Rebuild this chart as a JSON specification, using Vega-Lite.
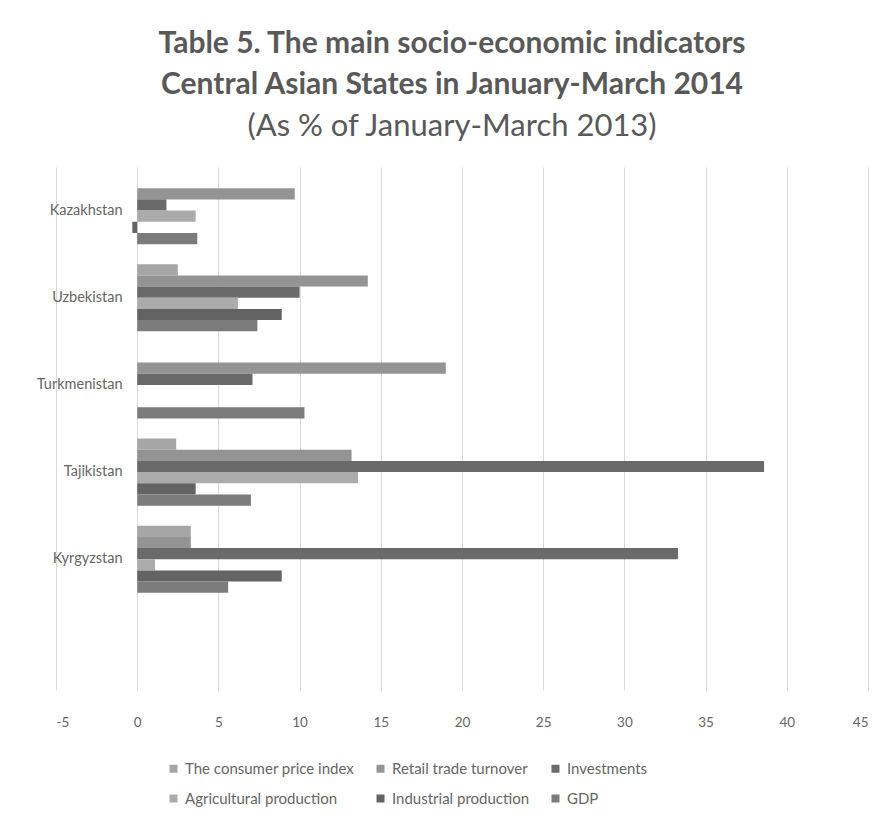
{
  "$schema": "https://vega.github.io/schema/vega-lite/v6.json",
  "autosize": "none",
  "width": 812,
  "height": 523,
  "padding": {"left": 56, "top": 167, "right": 15, "bottom": 126},
  "background": "white",
  "title": {
    "text": ["Table 5. The main socio-economic indicators", "Central Asian States in January-March 2014"],
    "subtitle": "(As % of January-March 2013)",
    "anchor": "middle",
    "dx": -10,
    "offset": 25,
    "font": "Lato",
    "fontSize": 30,
    "fontWeight": "bold",
    "lineHeight": 41,
    "color": "#595959",
    "subtitleFont": "Lato",
    "subtitleFontSize": 31,
    "subtitleFontWeight": "normal",
    "subtitleColor": "#595959",
    "subtitlePadding": 12,
    "subtitleLineHeight": 40
  },
  "data": {
    "values": [
      {"country": "Kazakhstan", "series": "Retail trade turnover", "value": 9.7},
      {"country": "Kazakhstan", "series": "Investments", "value": 1.8},
      {"country": "Kazakhstan", "series": "Agricultural production", "value": 3.6},
      {"country": "Kazakhstan", "series": "Industrial production", "value": -0.3},
      {"country": "Kazakhstan", "series": "GDP", "value": 3.7},
      {"country": "Uzbekistan", "series": "The consumer price index", "value": 2.5},
      {"country": "Uzbekistan", "series": "Retail trade turnover", "value": 14.2},
      {"country": "Uzbekistan", "series": "Investments", "value": 10.0},
      {"country": "Uzbekistan", "series": "Agricultural production", "value": 6.2},
      {"country": "Uzbekistan", "series": "Industrial production", "value": 8.9},
      {"country": "Uzbekistan", "series": "GDP", "value": 7.4},
      {"country": "Turkmenistan", "series": "Retail trade turnover", "value": 19.0},
      {"country": "Turkmenistan", "series": "Investments", "value": 7.1},
      {"country": "Turkmenistan", "series": "GDP", "value": 10.3},
      {"country": "Tajikistan", "series": "The consumer price index", "value": 2.4},
      {"country": "Tajikistan", "series": "Retail trade turnover", "value": 13.2},
      {"country": "Tajikistan", "series": "Investments", "value": 38.6},
      {"country": "Tajikistan", "series": "Agricultural production", "value": 13.6},
      {"country": "Tajikistan", "series": "Industrial production", "value": 3.6},
      {"country": "Tajikistan", "series": "GDP", "value": 7.0},
      {"country": "Kyrgyzstan", "series": "The consumer price index", "value": 3.3},
      {"country": "Kyrgyzstan", "series": "Retail trade turnover", "value": 3.3},
      {"country": "Kyrgyzstan", "series": "Investments", "value": 33.3},
      {"country": "Kyrgyzstan", "series": "Agricultural production", "value": 1.1},
      {"country": "Kyrgyzstan", "series": "Industrial production", "value": 8.9},
      {"country": "Kyrgyzstan", "series": "GDP", "value": 5.6}
    ]
  },
  "mark": {"type": "bar", "orient": "horizontal"},
  "encoding": {
    "y": {
      "field": "country",
      "type": "nominal",
      "scale": {
        "domain": ["Kazakhstan", "Uzbekistan", "Turkmenistan", "Tajikistan", "Kyrgyzstan", " "],
        "paddingInner": 0.23,
        "paddingOuter": 0.115
      },
      "axis": {
        "title": null,
        "domain": false,
        "ticks": false,
        "labelPadding": -66,
        "labelFont": "Lato",
        "labelFontSize": 14.5,
        "labelColor": "#666666"
      }
    },
    "yOffset": {
      "field": "series",
      "type": "nominal",
      "scale": {
        "domain": ["The consumer price index", "Retail trade turnover", "Investments", "Agricultural production", "Industrial production", "GDP"],
        "paddingInner": 0,
        "paddingOuter": 0
      }
    },
    "x": {
      "field": "value",
      "type": "quantitative",
      "scale": {"domain": [-5, 45], "nice": false, "zero": true},
      "axis": {
        "title": null,
        "values": [-5, 0, 5, 10, 15, 20, 25, 30, 35, 40, 45],
        "labelExpr": "(datum.value < 0 ? '-' : '') + abs(datum.value)",
        "domain": false,
        "ticks": false,
        "grid": true,
        "gridColor": "#d9d9d9",
        "labelPadding": 25,
        "labelFont": "Lato",
        "labelFontSize": 13.5,
        "labelColor": "#666666"
      }
    },
    "color": {
      "field": "series",
      "type": "nominal",
      "scale": {
        "domain": ["The consumer price index", "Retail trade turnover", "Investments", "Agricultural production", "Industrial production", "GDP"],
        "range": ["#a6a6a6", "#949494", "#6a6a6a", "#ababab", "#636363", "#7b7b7b"]
      },
      "legend": {
        "title": null,
        "orient": "none",
        "legendX": 110,
        "legendY": 594,
        "direction": "horizontal",
        "columns": 3,
        "gridAlign": "each",
        "columnPadding": 18,
        "rowPadding": 14,
        "symbolType": "square",
        "symbolSize": 64,
        "symbolStrokeWidth": 0,
        "labelFont": "Lato",
        "labelFontSize": 15,
        "labelColor": "#666666",
        "labelLimit": 300
      }
    }
  },
  "config": {
    "view": {"stroke": null},
    "bar": {"stroke": null}
  }
}
